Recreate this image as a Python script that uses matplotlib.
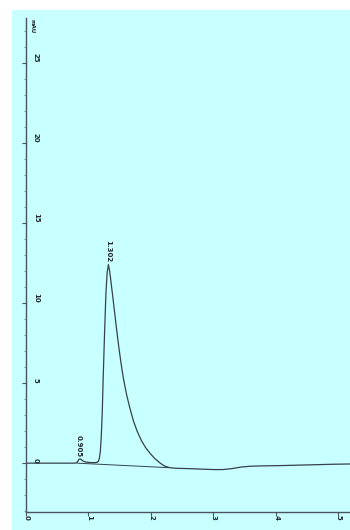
import matplotlib
matplotlib.use("Agg")
import matplotlib.pyplot as plt
from matplotlib.patches import Rectangle

# chromatogram trace (time in min, signal in mAU)
time_min = [0.00, 0.30, 0.60, 0.78, 0.81, 0.83, 0.85, 0.87, 0.89, 0.92, 0.96, 1.02,
            1.10, 1.14, 1.16, 1.175, 1.19, 1.205, 1.22, 1.24, 1.26, 1.28, 1.30, 1.32,
            1.34, 1.365, 1.39, 1.42, 1.45, 1.485, 1.52, 1.56, 1.61, 1.66, 1.72, 1.78,
            1.85, 1.92, 1.99, 2.06, 2.15, 2.22, 2.30, 2.40, 2.60, 2.80, 3.00, 3.15,
            3.30, 3.45, 3.60, 3.80, 4.10, 4.50, 4.90, 5.20]
signal_mau = [0.00, 0.00, 0.00, 0.00, 0.03, 0.12, 0.25, 0.27, 0.20, 0.12, 0.07, 0.04,
              0.03, 0.06, 0.12, 0.30, 0.70, 1.60, 3.00, 5.80, 8.30, 10.60, 11.90, 12.40,
              12.00, 11.20, 10.40, 9.40, 8.40, 7.30, 6.30, 5.30, 4.30, 3.50, 2.65, 2.00,
              1.40, 0.95, 0.60, 0.30, 0.00, -0.18, -0.28, -0.32, -0.34, -0.37, -0.40, -0.40,
              -0.34, -0.24, -0.19, -0.17, -0.15, -0.11, -0.07, -0.05]

# integration baseline drawn under the peaks
base_t = [0.82, 2.28]
base_y = [0.00, -0.28]

# peak labels (retention times)
peak_rt = [0.905, 1.302]
peak_x = [0.85, 1.32]
peak_height = [0.27, 12.40]

xticks = [0, 1, 2, 3, 4, 5]
yticks = [0, 5, 10, 15, 20, 25]

ink = "#36414b"
txt_col = "#1f272e"

fig = plt.figure(figsize=(3.5, 5.3), dpi=100)
fig.patch.set_facecolor("white")
fig.patches.append(Rectangle((12 / 350, 0), 1 - 12 / 350, 1 - 10 / 530,
                             transform=fig.transFigure, facecolor="#c8ffff",
                             edgecolor="none", zorder=-10))

ax = fig.add_axes([26 / 350, 18 / 530, 324 / 350, 494 / 530])
ax.patch.set_alpha(0)
ax.set_xlim(0, 5.19)
ax.set_ylim(-3.05, 27.8)

ax.plot(time_min, signal_mau, color=ink, linewidth=0.9)
ax.plot(base_t, base_y, color=ink, linewidth=0.7)

for sp in ["top", "right"]:
    ax.spines[sp].set_visible(False)
for sp in ["left", "bottom"]:
    ax.spines[sp].set_color("#4a5560")
    ax.spines[sp].set_linewidth(1.0)

ax.set_xticks(xticks)
ax.set_yticks(yticks)
ax.set_yticks(range(-3, 28), minor=True)
ax.tick_params(axis="both", which="major", direction="out", length=3,
               width=0.8, color="#4a5560", labelleft=False, labelbottom=False)
ax.tick_params(axis="y", which="minor", direction="out", length=1.5,
               width=0.5, color="#6a757f")

# tick labels are rotated; y labels sit inside the axis and end at their tick
for v in yticks:
    ax.annotate(str(v), xy=(0, v), xycoords=("axes fraction", "data"),
                xytext=(7, 0.5), textcoords="offset points", rotation=270,
                ha="center", va="bottom", fontsize=5, fontweight="bold",
                color=txt_col)
for v in xticks:
    ax.annotate(str(v), xy=(v, 0), xycoords=("data", "axes fraction"),
                xytext=(0.5, -4), textcoords="offset points", rotation=270,
                ha="center", va="center", fontsize=5, fontweight="bold",
                color=txt_col)

ax.annotate("mAU", xy=(0, 1), xycoords="axes fraction", xytext=(4, -6),
            textcoords="offset points", rotation=270, ha="center", va="center",
            fontsize=4, fontweight="bold", color=txt_col)

for rt, x, h in zip(peak_rt, peak_x, peak_height):
    ax.annotate(f"{rt:.3f}", xy=(x, h), xytext=(-0.5, 1.5), textcoords="offset points",
                rotation=270, ha="center", va="bottom", fontsize=5,
                fontweight="bold", color=txt_col)

fig.savefig("out.png", dpi=100)
